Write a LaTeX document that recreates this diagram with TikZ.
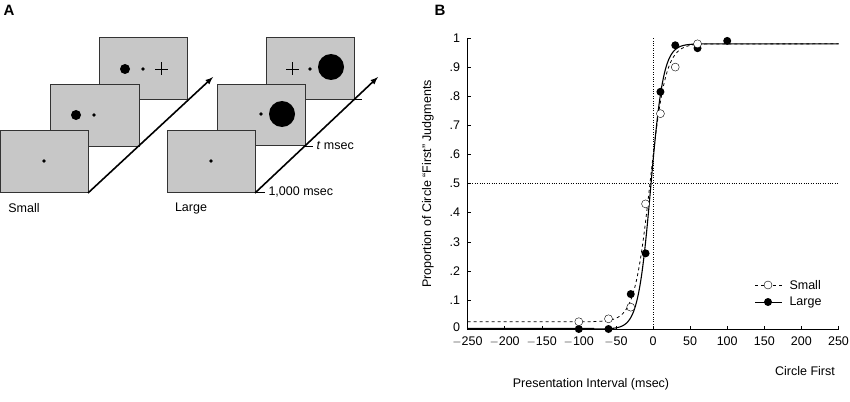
\documentclass[tikz,border=0pt]{standalone}
\usepackage{fontspec}
\setmainfont{Liberation Sans}
\usetikzlibrary{positioning}
\tikzset{
  screen/.style={draw=black!80, fill=black!22, line width=0.6pt},
  timearrow/.style={-latex, line width=1.6pt},
  lbl/.style={font=\fontsize{12.5}{14}\selectfont},
  opendot/.style={circle, draw, fill=white, inner sep=0pt, minimum size=8pt},
  filldot/.style={circle, fill=black, inner sep=0pt, minimum size=8pt},
}
\begin{document}
\begin{tikzpicture}[x=1pt,y=1pt,yscale=-1,xscale=1]
\useasboundingbox (0,0) rectangle (850,401);

% Panel labels
\node[font=\bfseries\fontsize{15}{17}\selectfont] (A) at (9,10) {A};
\node[font=\bfseries\fontsize{15}{17}\selectfont] (B) at (440,10) {B};

%Shape: Small screens
\draw[screen] (99,37) rectangle (187,99);
\draw[screen] (50,84) rectangle (139,146);
\draw[screen] (0,130) rectangle (88,192);
\fill (44,161) circle (1.8);
\fill (76,115) circle (5);  \fill (94,115) circle (1.8);
\fill (125,69) circle (5);  \fill (143,69) circle (1.8);
\draw[line width=0.9pt] (155,69) -- (168,69) (161.5,62.5) -- (161.5,75.5);
\coordinate (s0) at (88,193);
\coordinate (s1) at (213,77);
\draw[timearrow] (s0) -- (s1);
\node[lbl] (small) at (24,208) {Small};

%Shape: Large screens
\draw[screen] (266,37) rectangle (354,99);
\draw[screen] (217,84) rectangle (305,145);
\draw[screen] (167,130) rectangle (255,192);
\fill (211,161) circle (1.8);
\fill (261,114) circle (1.8);  \fill (282,114) circle (13);
\draw[line width=0.9pt] (286,69) -- (299,69) (292.5,62.5) -- (292.5,75.5);
\fill (310,69) circle (1.8);  \fill (331,67) circle (13);
\draw (354,99) -- (362,99);
\coordinate (l0) at (255,193);
\coordinate (l1) at (378,77);
\draw[timearrow] (l0) -- (l1);
\draw (305,146) -- (313,146);
\draw (256,192) -- (265,192);
\node[lbl, anchor=west] (tms) at (313,146) {\textit{t} msec};
\node[lbl, anchor=west] (kms) at (265,192) {1,000 msec};
\node[lbl] (large) at (191,208) {Large};

% Panel B axes
\begin{scope}[shift={(653,329)}, x=0.742pt, y=-291pt]
  \draw[line width=0.9pt] (-250,1) -- (-250,0) -- (250,0);
  \foreach \t in {-250,-200,...,250}
    \draw (\t,0) -- (\t,0.012) node[lbl, below=4pt] at (\t,0) {\ifnum\t<0 $-$\number-\t\else\t\fi};
  \foreach \v/\s in {0.1/.1,0.2/.2,0.3/.3,0.4/.4,0.5/.5,0.6/.6,0.7/.7,0.8/.8,0.9/.9,1/1}
    \draw (-250,\v) -- (-245,\v) node[lbl, left=4pt] at (-250,\v) {\s};
  \node[lbl, left=4pt] (y0) at (-250,0.005) {0};
  \draw[dotted] (0,0) -- (0,1);
  \draw[dotted] (-250,0.5) -- (250,0.5);
  % fitted curves
  \draw[dashed, line width=0.8pt] (-250,0.025) -- (-80,0.025)
    -- plot[domain=-80:80, samples=120] (\x, {0.025+0.955/(1+exp(-(\x+4)/10.5))}) -- (250,0.98);
  \draw[line width=1.1pt] (-250,0.002) -- (-80,0.002)
    -- plot[domain=-80:80, samples=120] (\x, {0.98/(1+exp(-(\x+3)/8.5))}) -- (250,0.98);
  % data
  \foreach \px/\py in {-100/0,-60/0,-30/0.12,-10/0.26,10/0.815,30/0.975,60/0.965,100/0.99}
    \node[filldot] at (\px,\py) {};
  \foreach \px/\py in {-100/0.025,-60/0.035,-30/0.075,-10/0.43,10/0.74,30/0.9,60/0.98}
    \node[opendot] at (\px,\py) {};
\end{scope}

% Legend
\draw[dashed] (755,285) -- (782,285);
\node[opendot] (lgS) at (768,285) {};
\node[lbl, anchor=west] (small2) at (786,285) {Small};
\draw[line width=1pt] (755,302) -- (782,302);
\node[filldot] (lgL) at (768,302) {};
\node[lbl, anchor=west] (large2) at (786,302) {Large};

% Axis titles
\node[lbl] (xt) at (591,384) {Presentation Interval (msec)};
\node[lbl] (cf) at (805,371) {Circle First};
\node[lbl, rotate=90] (yt) at (428,184) {Proportion of Circle \textquotedblleft First\textquotedblright{} Judgments};

\end{tikzpicture}
\end{document}
